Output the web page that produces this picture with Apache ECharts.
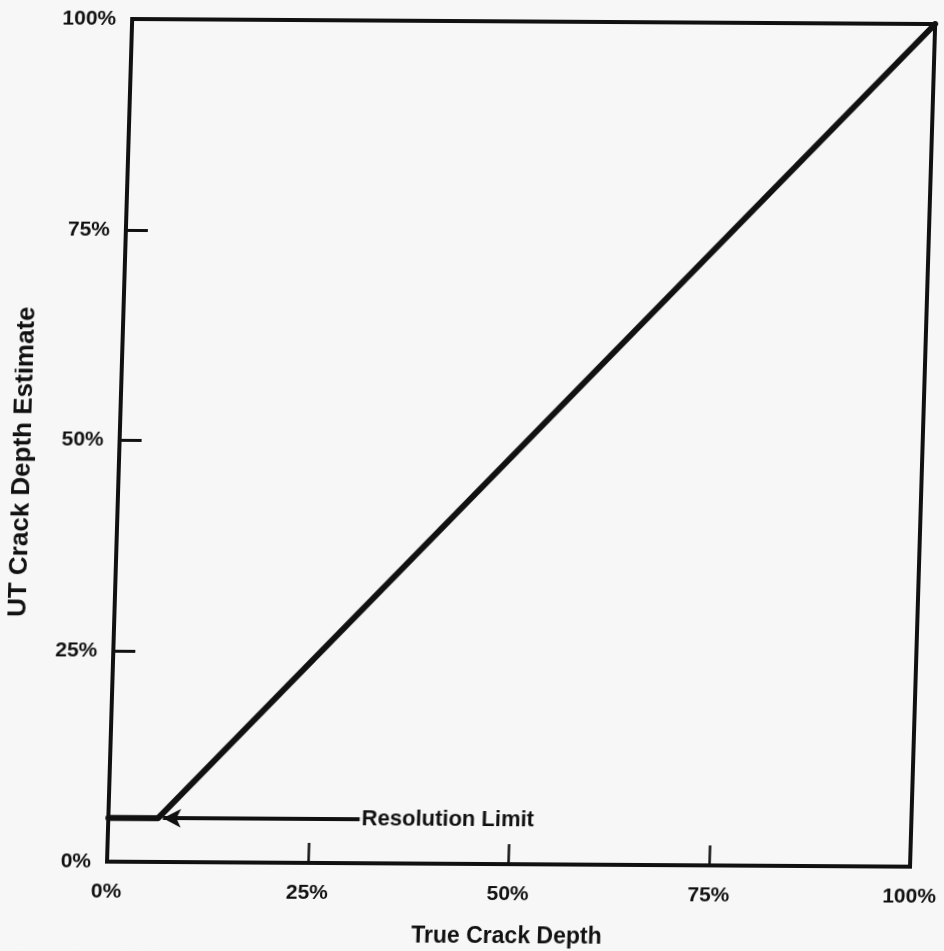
<!DOCTYPE html>
<html>
<head>
<meta charset="utf-8">
<script src="https://cdn.jsdelivr.net/npm/echarts@6/dist/echarts.min.js"></script>
<style>
  html, body { margin: 0; padding: 0; background: #f7f7f7; }
  /* the plate is slightly sheared and turned, like a scanned figure */
  #chart { width: 944px; height: 951px; transform-origin: 107px 862px; transform: skewX(-1.35deg) rotate(0.36deg); }
</style>
</head>
<body>
<div id="chart"></div>
<script>
// Ideal response of the UT sizing technique (percent of wall)
const trueDepth  = [0, 6.2, 100];      // x: true crack depth, %
const utEstimate = [5.2, 5.2, 100];    // y: UT crack depth estimate, %
const axisTicks  = [0, 25, 50, 75, 100];
const resolutionLimit = 5.2;           // lowest depth the method can report, %
const arrowSpan  = [6.8, 31.3];        // annotation arrow, along x, %

const font = 'Liberation Sans, Arial, sans-serif';
const ink = '#111';

const chart = echarts.init(document.getElementById('chart'));
chart.setOption({
  backgroundColor: '#f7f7f7',
  animation: false,
  grid: {
    left: 107, right: 34, top: 19, bottom: 89,
    containLabel: false, outerBoundsMode: 'none',
    show: true, borderColor: ink, borderWidth: 4
  },
  xAxis: {
    type: 'value', min: axisTicks[0], max: axisTicks[axisTicks.length - 1], interval: 25,
    name: 'True Crack Depth', nameLocation: 'middle', nameGap: 61,
    nameTextStyle: { fontFamily: font, fontWeight: 'bold', fontSize: 23, color: ink },
    axisLine: { lineStyle: { color: ink, width: 4 } },
    axisTick: { inside: true, length: 20, lineStyle: { color: ink, width: 2.5 } },
    axisLabel: { margin: 20, fontFamily: font, fontWeight: 'bold', fontSize: 21, color: ink, formatter: v => v + '%' },
    splitLine: { show: false }
  },
  yAxis: {
    type: 'value', min: axisTicks[0], max: axisTicks[axisTicks.length - 1], interval: 25,
    name: 'UT Crack Depth Estimate', nameLocation: 'middle', nameGap: 83, nameRotate: 90,
    nameTextStyle: { fontFamily: font, fontWeight: 'bold', fontSize: 26, color: ink, padding: [0, 44, 0, 0] },
    axisLine: { lineStyle: { color: ink, width: 3.5 } },
    axisTick: { inside: true, length: 22, lineStyle: { color: ink, width: 3 } },
    axisLabel: {
      margin: 16, padding: [6, 0, 0, 0],
      fontFamily: font, fontWeight: 'bold', fontSize: 21, color: ink, formatter: v => v + '%'
    },
    splitLine: { show: false }
  },
  series: [{
    type: 'line',
    data: trueDepth.map((x, i) => [x, utEstimate[i]]),
    showSymbol: false,
    lineStyle: { color: ink, width: 6, join: 'round', cap: 'round' },
    markLine: {
      silent: true,
      symbol: ['arrow', 'none'],
      symbolSize: [14, 18],
      lineStyle: { color: ink, width: 4, type: 'solid' },
      label: {
        position: 'end', distance: 2, formatter: 'Resolution Limit',
        fontFamily: font, fontWeight: 'bold', fontSize: 22, color: ink
      },
      data: [[
        { coord: [arrowSpan[0], resolutionLimit] },
        { coord: [arrowSpan[1], resolutionLimit] }
      ]]
    }
  }]
});
</script>
</body>
</html>
